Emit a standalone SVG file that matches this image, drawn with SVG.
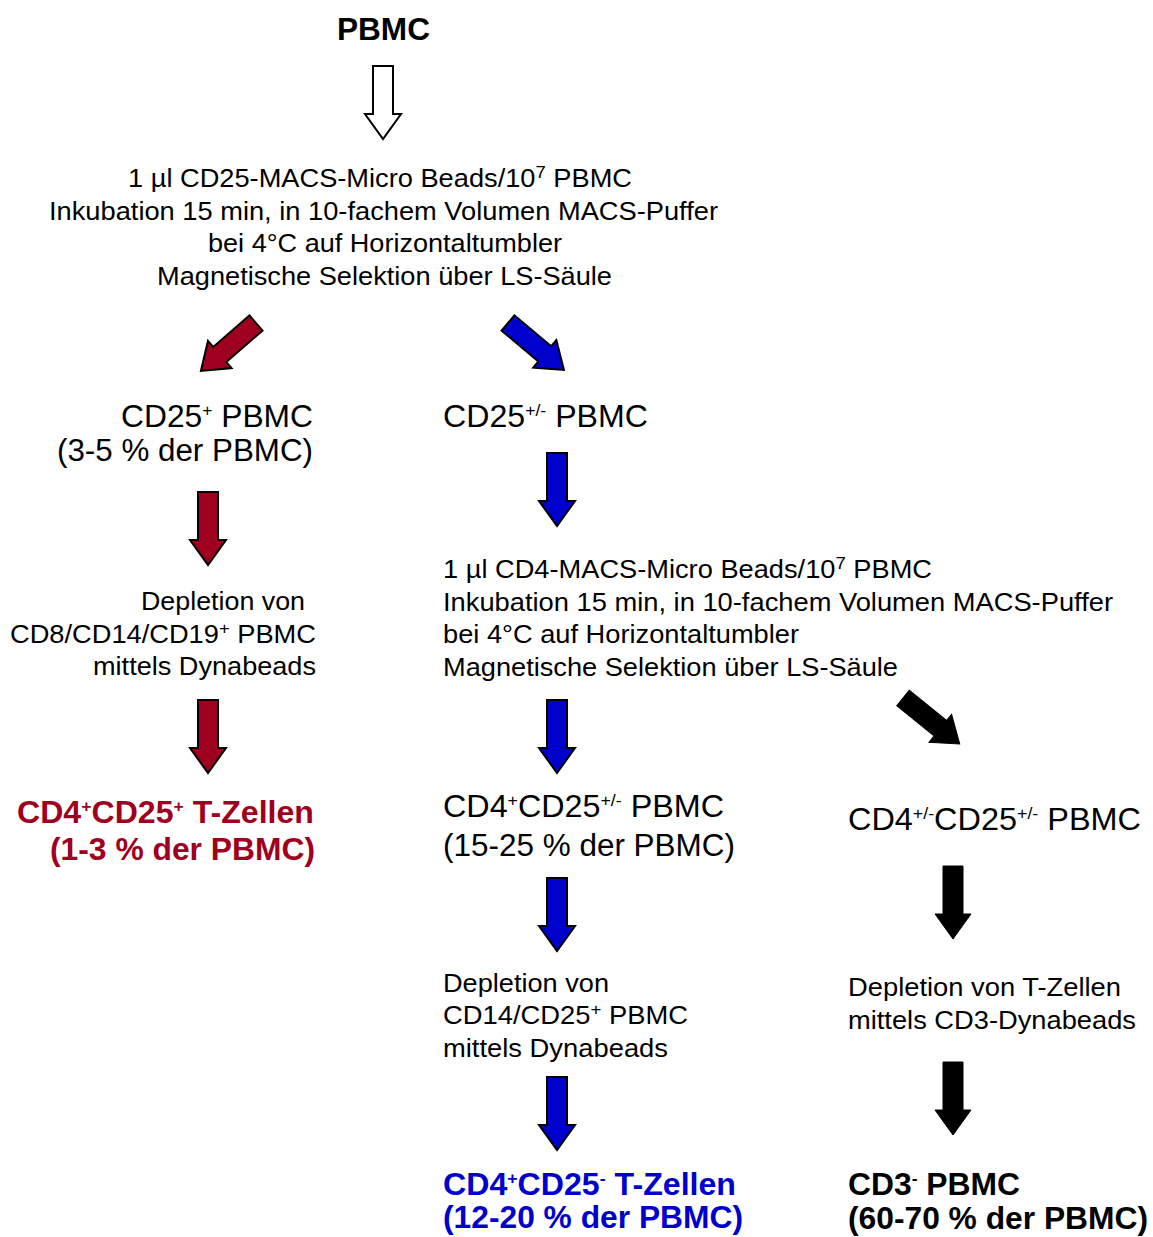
<svg xmlns="http://www.w3.org/2000/svg" xmlns:xlink="http://www.w3.org/1999/xlink" width="1153" height="1237" viewBox="0 0 1153 1237">
<style>
text{font-family:"Liberation Sans",Arial,sans-serif;fill:#000}
.s{font-size:25px}
.b{font-size:31px}
.bb{font-size:31px;font-weight:bold}
.red{fill:#A00020}
.blue{fill:#0000CC}
.sup{font-size:17px}
.aw{fill:#fff;stroke:#000;stroke-width:2}
.ar{fill:#A00020;stroke:#000;stroke-width:2}
.ab{fill:#0000CC;stroke:#000;stroke-width:2}
.ak{fill:#000;stroke:#000;stroke-width:1}
</style>
<defs>
<path id="dn" d="M-10,0 H10 V48 H18 L0,73 L-18,48 H-10 Z"/>
</defs>
<rect width="1153" height="1237" fill="#fff"/>
<g id="connectors">
<use xlink:href="#dn" class="aw" transform="translate(383,66)"/>
<use xlink:href="#dn" class="ar" transform="translate(256,323) rotate(49)"/>
<use xlink:href="#dn" class="ab" transform="translate(508,323) rotate(-50)"/>
<use xlink:href="#dn" class="ar" transform="translate(208,492)"/>
<use xlink:href="#dn" class="ar" transform="translate(208,700)"/>
<use xlink:href="#dn" class="ab" transform="translate(557,453)"/>
<use xlink:href="#dn" class="ab" transform="translate(557,700)"/>
<use xlink:href="#dn" class="ab" transform="translate(557,878)"/>
<use xlink:href="#dn" class="ab" transform="translate(557,1077)"/>
<use xlink:href="#dn" class="ak" transform="translate(903,698) rotate(-51)"/>
<use xlink:href="#dn" class="ak" transform="translate(953,866)"/>
<use xlink:href="#dn" class="ak" transform="translate(953,1062)"/>
</g>
<g id="n-pbmc"><text class="bb" x="337" y="40" textLength="93" lengthAdjust="spacingAndGlyphs">PBMC</text></g>
<g id="n-step1">
<text class="s" x="128" y="187" textLength="504" lengthAdjust="spacingAndGlyphs">1 µl CD25-MACS-Micro Beads/10<tspan class="sup" dy="-9">7</tspan><tspan dy="9"> PBMC</tspan></text>
<text class="s" x="49" y="220" textLength="669" lengthAdjust="spacingAndGlyphs">Inkubation 15 min, in 10-fachem Volumen MACS-Puffer</text>
<text class="s" x="208" y="252" textLength="354" lengthAdjust="spacingAndGlyphs">bei 4°C auf Horizontaltumbler</text>
<text class="s" x="157" y="285" textLength="455" lengthAdjust="spacingAndGlyphs">Magnetische Selektion über LS-Säule</text>
</g>
<g id="n-cd25pos">
<text class="b" x="121" y="427" textLength="192" lengthAdjust="spacingAndGlyphs">CD25<tspan class="sup" dy="-11">+</tspan><tspan dy="11"> PBMC</tspan></text>
<text class="b" x="57" y="461" textLength="256" lengthAdjust="spacingAndGlyphs">(3-5 % der PBMC)</text>
</g>
<g id="n-depl-left">
<text class="s" x="141" y="610" textLength="164" lengthAdjust="spacingAndGlyphs">Depletion von</text>
<text class="s" x="10" y="643" textLength="306" lengthAdjust="spacingAndGlyphs">CD8/CD14/CD19<tspan class="sup" dy="-9">+</tspan><tspan dy="9"> PBMC</tspan></text>
<text class="s" x="93" y="675" textLength="223" lengthAdjust="spacingAndGlyphs">mittels Dynabeads</text>
</g>
<g id="n-treg">
<text class="bb red" x="17" y="823" textLength="297" lengthAdjust="spacingAndGlyphs">CD4<tspan class="sup" dy="-11">+</tspan><tspan dy="11">CD25</tspan><tspan class="sup" dy="-11">+</tspan><tspan dy="11"> T-Zellen</tspan></text>
<text class="bb red" x="50" y="860" textLength="265" lengthAdjust="spacingAndGlyphs">(1-3 % der PBMC)</text>
</g>
<g id="n-cd25pm">
<text class="b" x="443" y="427" textLength="205" lengthAdjust="spacingAndGlyphs">CD25<tspan class="sup" dy="-11">+/-</tspan><tspan dy="11"> PBMC</tspan></text>
</g>
<g id="n-step2">
<text class="s" x="443" y="578" textLength="489" lengthAdjust="spacingAndGlyphs">1 µl CD4-MACS-Micro Beads/10<tspan class="sup" dy="-9">7</tspan><tspan dy="9"> PBMC</tspan></text>
<text class="s" x="443" y="611" textLength="670" lengthAdjust="spacingAndGlyphs">Inkubation 15 min, in 10-fachem Volumen MACS-Puffer</text>
<text class="s" x="443" y="643" textLength="356" lengthAdjust="spacingAndGlyphs">bei 4°C auf Horizontaltumbler</text>
<text class="s" x="443" y="676" textLength="455" lengthAdjust="spacingAndGlyphs">Magnetische Selektion über LS-Säule</text>
</g>
<g id="n-cd4pos">
<text class="b" x="443" y="817" textLength="281" lengthAdjust="spacingAndGlyphs">CD4<tspan class="sup" dy="-11">+</tspan><tspan dy="11">CD25</tspan><tspan class="sup" dy="-11">+/-</tspan><tspan dy="11"> PBMC</tspan></text>
<text class="b" x="443" y="856" textLength="292" lengthAdjust="spacingAndGlyphs">(15-25 % der PBMC)</text>
</g>
<g id="n-depl-mid">
<text class="s" x="443" y="992" textLength="166" lengthAdjust="spacingAndGlyphs">Depletion von</text>
<text class="s" x="443" y="1024" textLength="245" lengthAdjust="spacingAndGlyphs">CD14/CD25<tspan class="sup" dy="-9">+</tspan><tspan dy="9"> PBMC</tspan></text>
<text class="s" x="443" y="1057" textLength="225" lengthAdjust="spacingAndGlyphs">mittels Dynabeads</text>
</g>
<g id="n-tcon">
<text class="bb blue" x="443" y="1195" textLength="293" lengthAdjust="spacingAndGlyphs">CD4<tspan class="sup" dy="-11">+</tspan><tspan dy="11">CD25</tspan><tspan class="sup" dy="-11">-</tspan><tspan dy="11"> T-Zellen</tspan></text>
<text class="bb blue" x="443" y="1228" textLength="300" lengthAdjust="spacingAndGlyphs">(12-20 % der PBMC)</text>
</g>
<g id="n-cd4pm">
<text class="b" x="848" y="830" textLength="293" lengthAdjust="spacingAndGlyphs">CD4<tspan class="sup" dy="-11">+/-</tspan><tspan dy="11">CD25</tspan><tspan class="sup" dy="-11">+/-</tspan><tspan dy="11"> PBMC</tspan></text>
</g>
<g id="n-depl-right">
<text class="s" x="848" y="996" textLength="273" lengthAdjust="spacingAndGlyphs">Depletion von T-Zellen</text>
<text class="s" x="848" y="1029" textLength="288" lengthAdjust="spacingAndGlyphs">mittels CD3-Dynabeads</text>
</g>
<g id="n-cd3neg">
<text class="bb" x="848" y="1195" textLength="172" lengthAdjust="spacingAndGlyphs">CD3<tspan class="sup" dy="-11">-</tspan><tspan dy="11"> PBMC</tspan></text>
<text class="bb" x="848" y="1229" textLength="300" lengthAdjust="spacingAndGlyphs">(60-70 % der PBMC)</text>
</g>
</svg>
